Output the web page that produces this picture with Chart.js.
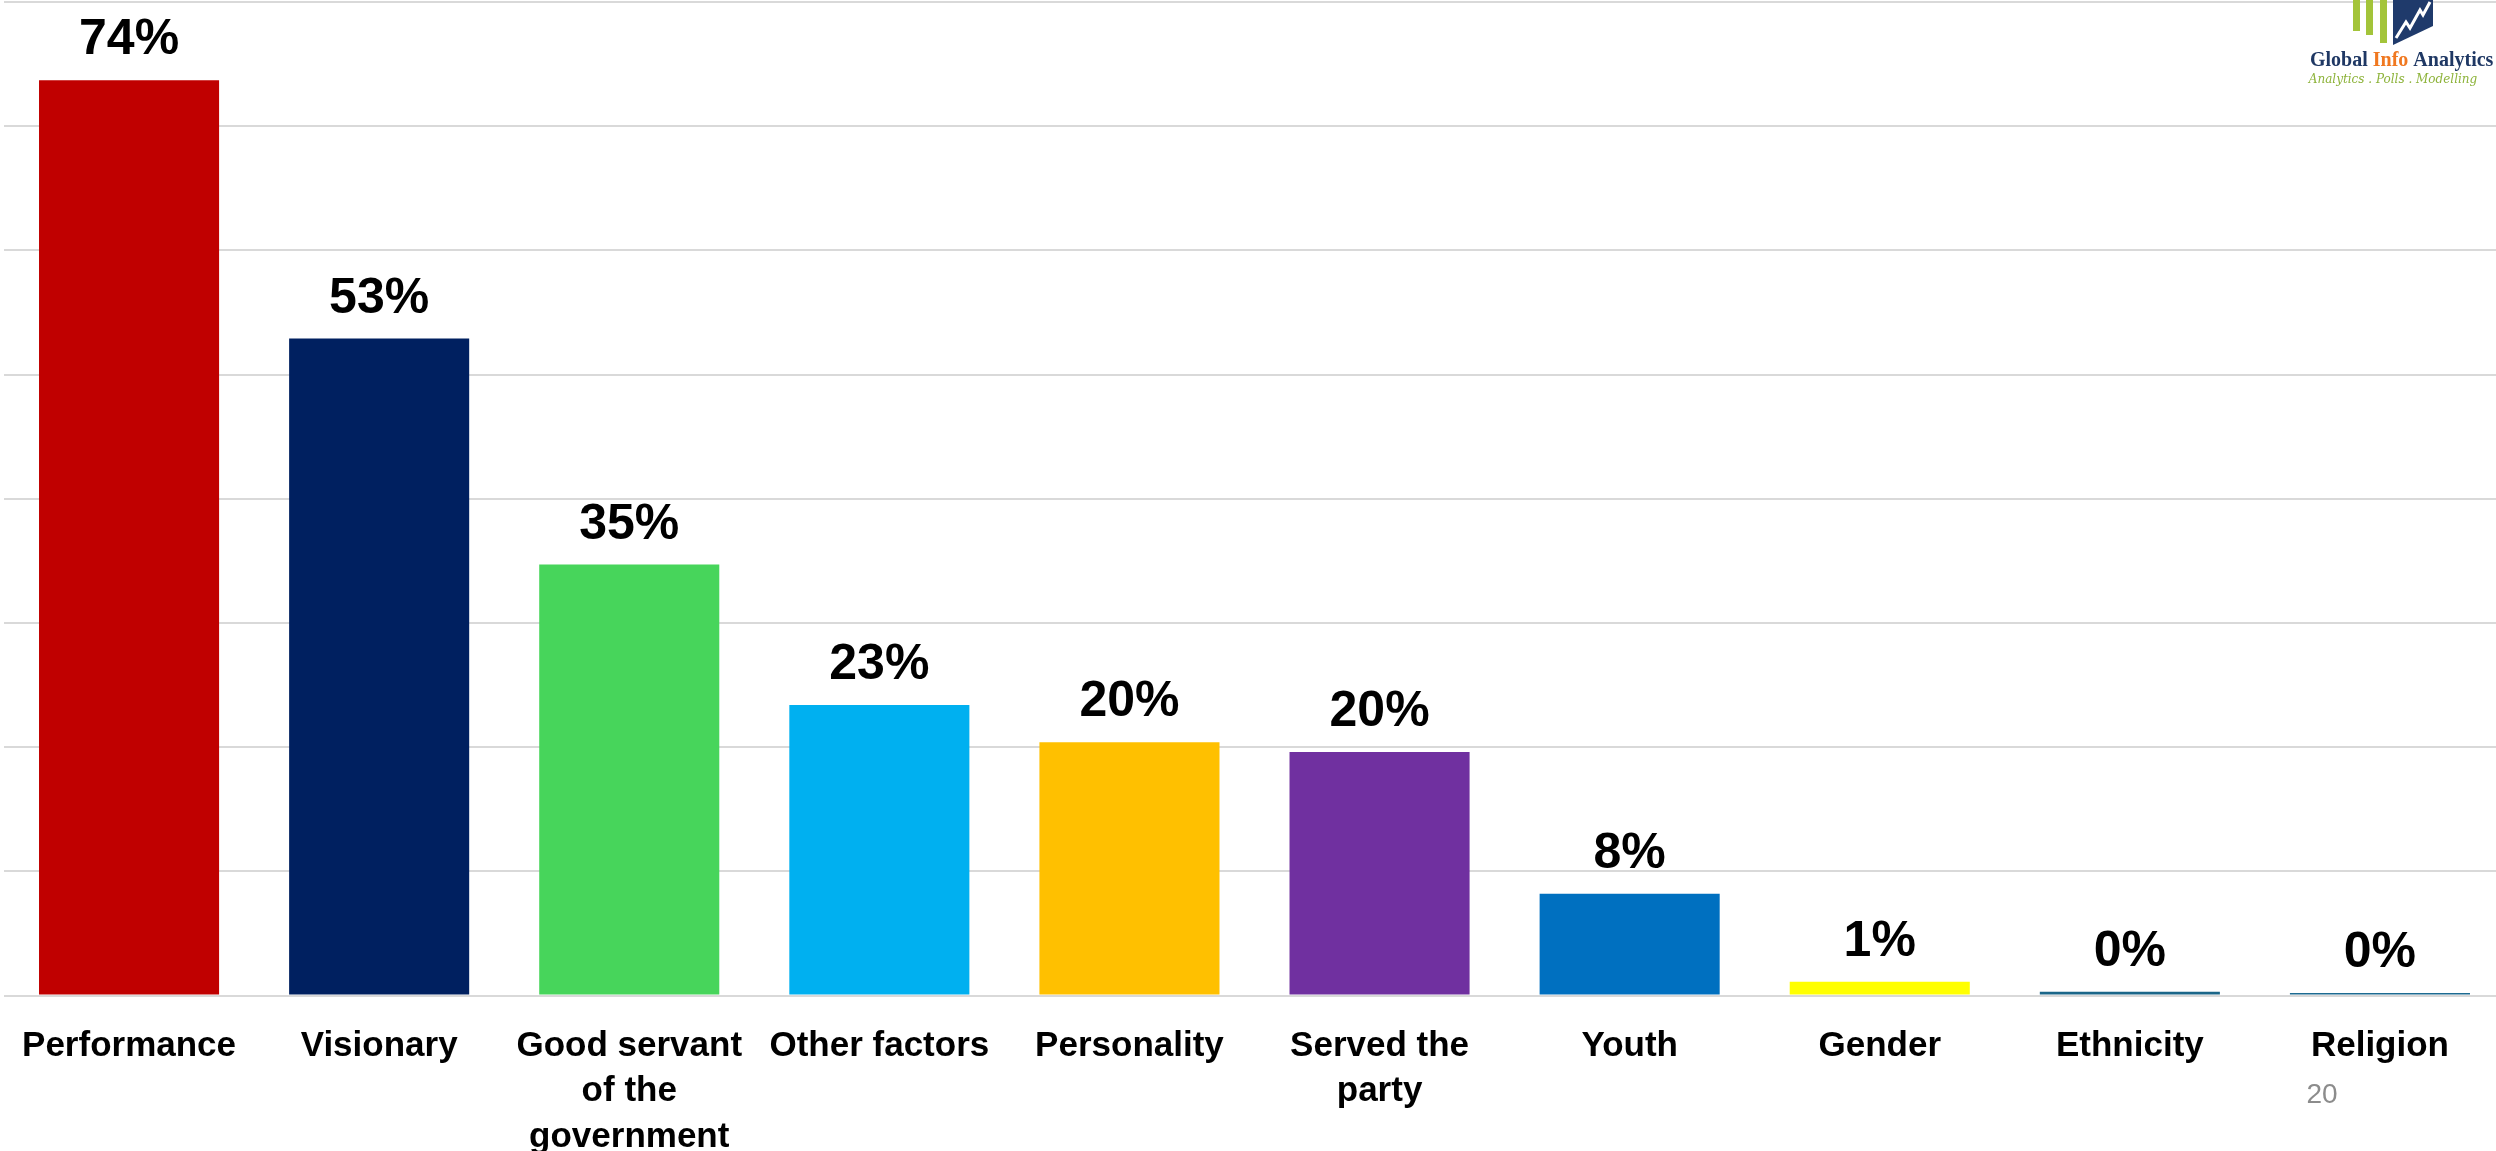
<!DOCTYPE html>
<html lang="en">
<head>
    <meta charset="UTF-8">
    <title>Reasons for choice</title>
    <style>
        html, body { margin: 0; padding: 0; background: #fff; overflow: hidden; }
        #chartBox { position: relative; width: 2496px; height: 1151px; overflow: hidden; }
    </style>
    <script src="https://cdn.jsdelivr.net/npm/chart.js"></script>
</head>
<body>
    <div id="chartBox">
        <canvas id="barChart" width="2505" height="1188"></canvas>
    </div>

    <script>
        // categories (multi-line ones split into arrays)
        var categories = [
            'Performance',
            'Visionary',
            ['Good servant', 'of the', 'government'],
            'Other factors',
            'Personality',
            ['Served the', 'party'],
            'Youth',
            'Gender',
            'Ethnicity',
            'Religion'
        ];

        // percentages
        var values = [73.7, 52.9, 34.7, 23.4, 20.4, 19.6, 8.2, 1.1, 0.3, 0.2];

        var barColors = [
            '#C00000', '#002060', '#47D55B', '#00B0F0', '#FFC000',
            '#7030A0', '#0070C0', '#FFFF00', '#1B6689', '#1D6B92'
        ];

        var yMax = 80;
        var yStep = 10;
        var pageNumber = '20';

        // draws the "74%" style labels above each bar
        var valueLabels = {
            id: 'valueLabels',
            afterDatasetsDraw: function(chart) {
                var ctx = chart.ctx;
                var meta = chart.getDatasetMeta(0);
                ctx.save();
                ctx.font = 'bold 50px "Liberation Sans", Arial, sans-serif';
                ctx.fillStyle = '#000';
                ctx.textAlign = 'center';
                ctx.textBaseline = 'alphabetic';
                meta.data.forEach(function(bar, i) {
                    ctx.fillText(Math.round(values[i]) + '%', bar.x, bar.y - 26);
                });
                ctx.restore();
            }
        };

        // logo in the corner and the slide number
        var decorations = {
            id: 'decorations',
            afterDraw: function(chart) {
                var ctx = chart.ctx;
                ctx.save();

                // green bars
                ctx.fillStyle = '#A3C43A';
                ctx.fillRect(2353, 0, 7, 31);
                ctx.fillRect(2366, 0, 7, 35);
                ctx.fillRect(2380, 0, 7, 43);

                // blue box with white zigzag
                ctx.fillStyle = '#1F3A6B';
                ctx.beginPath();
                ctx.moveTo(2393, 0);
                ctx.lineTo(2433, 0);
                ctx.lineTo(2433, 26);
                ctx.lineTo(2393, 45);
                ctx.closePath();
                ctx.fill();
                ctx.strokeStyle = '#fff';
                ctx.lineWidth = 3;
                ctx.beginPath();
                ctx.moveTo(2396, 38);
                ctx.lineTo(2406, 22);
                ctx.lineTo(2410, 28);
                ctx.lineTo(2420, 10);
                ctx.lineTo(2423, 15);
                ctx.lineTo(2430, 2);
                ctx.stroke();

                // company name
                ctx.font = 'bold 20px "Liberation Serif", serif';
                ctx.textBaseline = 'alphabetic';
                ctx.textAlign = 'left';
                var x = 2310;
                ctx.fillStyle = '#1F3864';
                ctx.fillText('Global ', x, 66);
                x += ctx.measureText('Global ').width;
                ctx.fillStyle = '#F07820';
                ctx.fillText('Info ', x, 66);
                x += ctx.measureText('Info ').width;
                ctx.fillStyle = '#1F3864';
                ctx.fillText('Analytics', x, 66);

                ctx.font = 'italic 12px "DejaVu Serif", serif';
                ctx.fillStyle = '#8DB33A';
                ctx.textAlign = 'center';
                ctx.fillText('Analytics . Polls . Modelling', 2393, 83);

                // slide number
                ctx.font = '28px "Liberation Sans", Arial, sans-serif';
                ctx.fillStyle = '#8C8C8C';
                ctx.textAlign = 'center';
                ctx.textBaseline = 'middle';
                ctx.fillText(pageNumber, 2322, 1095);

                ctx.restore();
            }
        };

        var ctx = document.getElementById('barChart').getContext('2d');
        var chart = new Chart(ctx, {
            type: 'bar',
            data: {
                labels: categories,
                datasets: [{
                    data: values,
                    backgroundColor: barColors,
                    borderWidth: 0,
                    categoryPercentage: 0.72,
                    barPercentage: 1.0
                }]
            },
            options: {
                responsive: false,
                animation: false,
                devicePixelRatio: 1,
                layout: {
                    padding: { left: 4, right: 0, top: 2, bottom: 0 }
                },
                plugins: {
                    legend: { display: false },
                    tooltip: { enabled: false }
                },
                scales: {
                    x: {
                        grid: { display: false, drawTicks: false },
                        border: { display: false },
                        afterFit: function(axis) {
                            axis.paddingLeft = 0;
                            axis.paddingRight = 0;
                        },
                        ticks: {
                            color: '#000',
                            padding: 28,
                            maxRotation: 0,
                            autoSkip: false,
                            font: {
                                family: '"Liberation Sans", Arial, sans-serif',
                                size: 35,
                                weight: 'bold',
                                lineHeight: 1.3
                            }
                        }
                    },
                    y: {
                        min: 0,
                        max: yMax,
                        ticks: { display: false, stepSize: yStep },
                        grid: { color: '#D9D9D9', lineWidth: 2, drawTicks: false },
                        border: { display: false },
                        afterFit: function(axis) { axis.width = 0; }
                    }
                }
            },
            plugins: [valueLabels, decorations]
        });
    </script>
</body>
</html>
